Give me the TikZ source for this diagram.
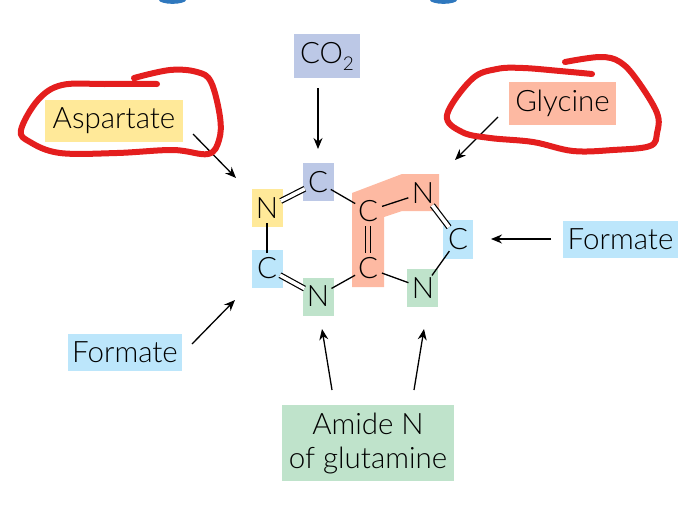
\documentclass[tikz,border=0pt]{standalone}
\usepackage{fontspec}
\setmainfont{Lato Light}
\usetikzlibrary{arrows.meta}
\definecolor{cblue}{HTML}{BCC8E6}
\definecolor{cyel}{HTML}{FFE999}
\definecolor{csal}{HTML}{FDB9A2}
\definecolor{csky}{HTML}{BCE6FB}
\definecolor{cgrn}{HTML}{BFE3CB}
\definecolor{cred}{HTML}{E41E1E}
\definecolor{ctop}{HTML}{2F78BE}
\tikzset{
  x=1pt,y=-1pt,
  label box/.style={inner sep=0pt,font=\fontsize{29.5}{34}\selectfont,text=black,align=center},
  atom box/.style={minimum width=31pt,minimum height=38pt,inner sep=0pt},
  atom/.style={circle,inner sep=0pt,minimum size=27pt,font=\fontsize{29.5}{29.5}\selectfont,text=black},
  bond/.style={line width=1.3pt,black},
  dbl/.style={line width=1.2pt,black,double=white,double distance=3.6pt},
  arr/.style={line width=1.3pt,black,-{Stealth[length=11pt,width=9pt]}},
  scrawl/.style={line width=6pt,cred,line cap=round,line join=round}
}
\begin{document}
\begin{tikzpicture}
\useasboundingbox (0,0) rectangle (687,522);
% cut-off blue marks at top edge
\fill[ctop] (159,0) arc[start angle=180,end angle=0,x radius=13.5,y radius=3.8] -- cycle;
\fill[ctop] (430,0) arc[start angle=180,end angle=0,x radius=13.5,y radius=3.8] -- cycle;
% label boxes
\node[label box,fill=cblue,minimum width=66pt,minimum height=44pt] (co2) at (327,56) {CO\raisebox{-7pt}{\fontsize{19}{19}\selectfont 2}};
\node[label box,fill=cyel,minimum width=138pt,minimum height=42pt] (asp) at (114,121) {Aspartate};
\node[label box,fill=csal,minimum width=107pt,minimum height=43pt] (gly) at (562.5,103.5) {Glycine};
\node[label box,fill=csky,minimum width=115pt,minimum height=37pt] (forr) at (620.5,239.5) {Formate};
\node[label box,fill=csky,minimum width=114pt,minimum height=37pt] (forl) at (125,352.5) {Formate};
\node[label box,fill=cgrn,minimum width=172pt,minimum height=76pt] (ami) at (368,443) {Amide N\\of glutamine};
% atom backgrounds
\fill[csal] (352,193) -- (402,174) -- (439,174) -- (439,211) -- (402,211) -- (384,217) -- (384,287) -- (352,287) -- cycle;
\node[atom box,fill=cblue] (b1) at (318.5,182) {};
\node[atom box,fill=cyel] (b2) at (267,207.5) {};
\node[atom box,fill=csky] (b3) at (267,268.5) {};
\node[atom box,fill=cgrn] (b4) at (318.5,296.5) {};
\node[atom box,fill=csky,minimum width=30pt,minimum height=39pt] (b5) at (458,239.5) {};
\node[atom box,fill=cgrn] (b6) at (422.5,288) {};
% atoms
\node[atom] (c1) at (318,182) {C};
\node[atom] (n2) at (267,208) {N};
\node[atom] (c3) at (267,268) {C};
\node[atom] (n4) at (318,296) {N};
\node[atom] (c5) at (368,211) {C};
\node[atom] (c6) at (368,268) {C};
\node[atom] (n7) at (423,193) {N};
\node[atom] (c8) at (458,239) {C};
\node[atom] (n9) at (423,288) {N};
% bonds
\draw[dbl] (n2) -- (c1);
\draw[bond] (c1) -- (c5);
\draw[bond] (c5) -- (n7);
\draw[dbl] (n7) -- (c8);
\draw[bond] (c8) -- (n9);
\draw[bond] (n9) -- (c6);
\draw[bond] (c6) -- (n4);
\draw[dbl] (n4) -- (c3);
\draw[bond] (c3) -- (n2);
\draw[dbl,double=csal] (c5) -- (c6);
% arrow ends
\coordinate (a1s) at (318,88);  \coordinate (a1e) at (318,149);
\coordinate (a2s) at (193,134); \coordinate (a2e) at (236,178);
\coordinate (a3s) at (498,117); \coordinate (a3e) at (455,160);
\coordinate (a4s) at (551,239); \coordinate (a4e) at (491,239);
\coordinate (a5s) at (192,344); \coordinate (a5e) at (235,300);
\coordinate (a6s) at (332,390); \coordinate (a6e) at (322,329);
\coordinate (a7s) at (414,390); \coordinate (a7e) at (424,329);
\foreach \s/\e in {a1s/a1e,a2s/a2e,a3s/a3e,a4s/a4e,a5s/a5e,a6s/a6e,a7s/a7e}
  \draw[arr] (\s) -- (\e);
% red hand-drawn circles
\draw[scrawl] plot[smooth,tension=0.6] coordinates {(157,84) (105,84) (62,85) (38,100) (21,130) (30,142) (60,153) (117,153) (173,150) (208,154) (219,140) (220,117) (211,82) (197,72) (170,70) (134,78)};
\draw[scrawl] plot[smooth,tension=0.6] coordinates {(592,74) (560,71) (523,68) (497,69) (472,79) (447,115) (462,132) (490,138) (533,142) (573,151) (613,150) (650,146) (657,133) (657,113) (637,80) (620,62) (600,57) (565,62)};
\end{tikzpicture}
\end{document}
